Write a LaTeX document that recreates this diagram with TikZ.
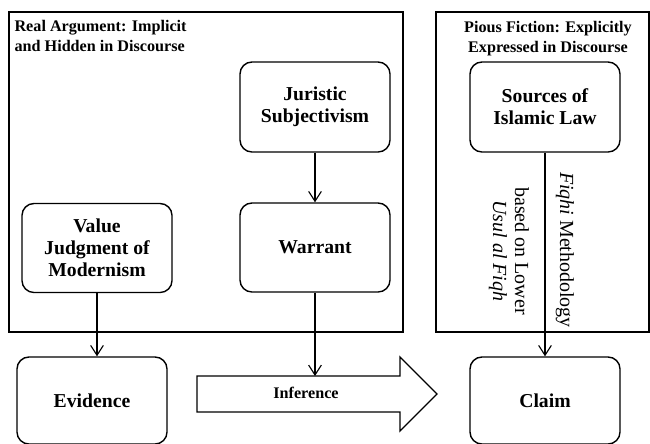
\documentclass[tikz,border=0pt]{standalone}
\usepackage{fontspec}
\setmainfont{Liberation Serif}
\usepackage{tikz}
\usetikzlibrary{arrows.meta}
\tikzset{
    boxnode/.style = {align=center, inner sep=0pt, text centered},
    round_box/.style = {boxnode, rectangle, rounded corners=0.3cm, draw=black, line width=1pt, minimum width=3.75cm, font=\fontsize{14}{15.8}\selectfont\bfseries},
    frame_box/.style = {draw=black, line width=0.9pt},
    title_text/.style = {inner sep=0pt, font=\fontsize{11.5}{14.2}\selectfont\bfseries},
    side_text/.style = {boxnode, rotate=-90, font=\fontsize{14.2}{15.6}\selectfont},
    big_arrow/.style = {draw=black, line width=0.9pt, fill=white}
}

\begin{document}
\begin{tikzpicture}
            [x=0.025cm, y=-0.025cm, line width=0.8pt,
            >={Straight Barb[length=7pt,width=9pt]}]

            \useasboundingbox[fill=white] (0,0) rectangle (650,443);

            \draw[frame_box] (9,12) rectangle (403,332);
            \draw[frame_box] (436,12) rectangle (649,332);
            \node[title_text, anchor=north west, align=left] (real_title) at (14,20) {Real Argument: Implicit\\and Hidden in Discourse};
            \node[title_text, anchor=north, align=center] (pious_title) at (548,21) {Pious Fiction: Explicitly\\Expressed in Discourse};

            \node[round_box, minimum height=2.25cm] (juristic) at (315,107) {Juristic\\Subjectivism};
            \node[round_box, minimum height=2.225cm] (warrant) at (315,247.5) {Warrant};
            \node[round_box, minimum height=2.225cm] (value) at (97,248) {Value\\Judgment of\\Modernism};
            \node[round_box, minimum height=2.25cm] (sources) at (545,107) {Sources of\\Islamic Law};
            \node[round_box, minimum height=2.175cm] (evidence) at (92,400.5) {Evidence};
            \node[round_box, minimum height=2.175cm] (claim) at (545,400.5) {Claim};

            \coordinate (arrow_top) at (315,376);
            \draw[big_arrow] (197,376) -- (400,376) -- (400,357) -- (437,394) -- (400,431) -- (400,412) -- (197,412) -- cycle;
            \node[title_text] (inference) at (306,393) {Inference};

            \draw[->] (juristic) -- (warrant);
            \draw[->] (value.south) -- (value.south |- evidence.north);
            \draw[->] (warrant.south) -- (warrant.south |- arrow_top);
            \draw[->] (sources) -- (claim);

            \node[side_text] (fiqhi) at (565,250) {\textit{Fiqhi} Methodology};
            \node[side_text] (usul) at (509,251) {based on Lower\\\textit{Usul al Fiqh}};
        \end{tikzpicture}
\end{document}
